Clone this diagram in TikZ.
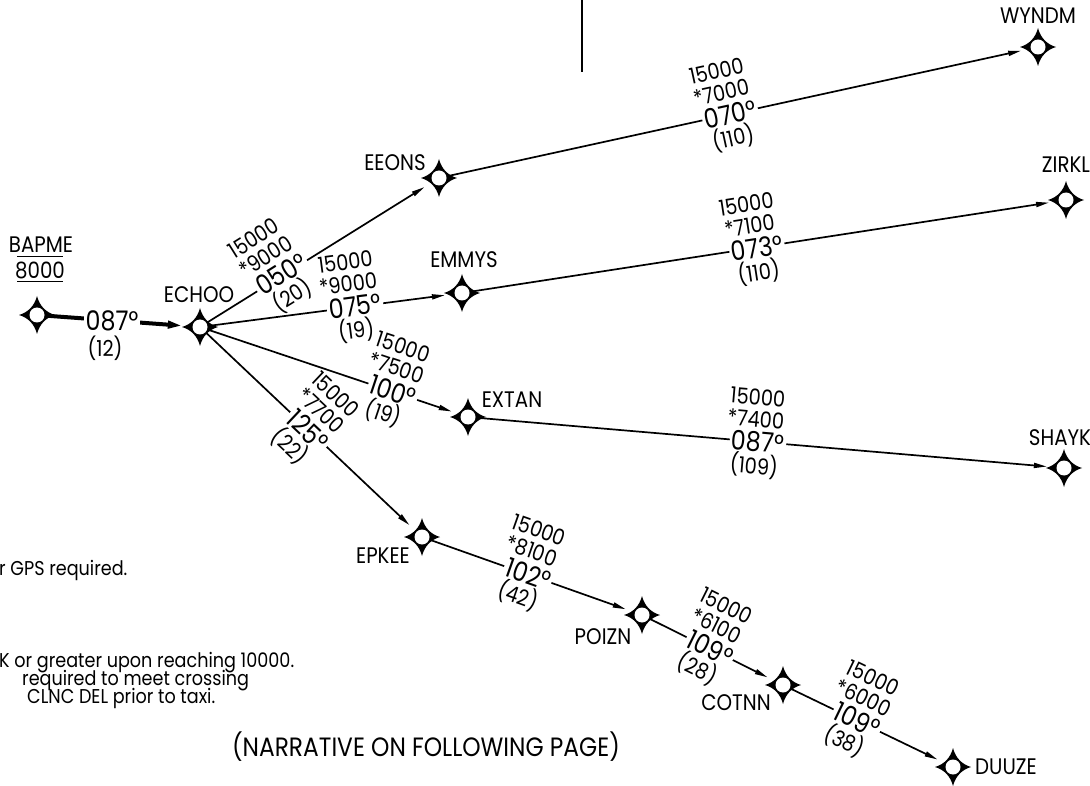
\documentclass[tikz,border=0pt]{standalone}
\usepackage{fontspec}
\setmainfont{Poppins}[FakeStretch=0.88]
\usetikzlibrary{arrows.meta}
\tikzset{
 wpt/.style={circle,minimum size=34pt,inner sep=0pt},
 conn/.style={line width=1.7pt,-{Triangle[length=13pt,width=5pt]}},
 wname/.style={font=\fontsize{22.5}{26}\selectfont,inner sep=0pt},
 alt/.style={font=\fontsize{22}{26}\selectfont,inner sep=0pt},
 hdg/.style={font=\fontsize{27}{30}\selectfont,fill=white,inner sep=2pt},
 note/.style={font=\fontsize{20}{24}\selectfont,anchor=base west,inner sep=0pt},
 wpstar/.pic={
  \fill[black] (18,0) .. controls (9,2.6) and (2.6,9) .. (0,19)
    .. controls (-2.6,9) and (-9,2.6) .. (-18,0)
    .. controls (-9,-2.6) and (-2.6,-9) .. (0,-19)
    .. controls (2.6,-9) and (9,-2.6) .. (18,0) -- cycle;
  \fill[white] (0,0) circle (7.5);
 }
}
\newcommand\seglab[7]{%
 \begin{scope}[shift={#2},rotate=#3,transform shape]
  \node[alt] (#1a) at (-4,-45) {#4};
  \node[alt] (#1b) at (-4,-23) {#5};
  \node[hdg] (#1c) at (0,0) {#6};
  \node[alt] (#1d) at (-2,24) {#7};
 \end{scope}}
\begin{document}
\begin{tikzpicture}[x=1pt,y=-1pt]
\useasboundingbox (0,0) rectangle (1090,786);
% waypoints
\foreach \n/\p in {BAPME/{(37,315)},ECHOO/{(200,327)},EEONS/{(439,178)},EMMYS/{(462,293)},
  EXTAN/{(468,417)},EPKEE/{(422,537)},WYNDM/{(1038,47)},ZIRKL/{(1066,200)},
  SHAYK/{(1064,468)},POIZN/{(642,615)},COTNN/{(783,685)},DUUZE/{(953,767)}}
  {\node[wpt] (\n) at \p {};}
% connectors
\draw[line width=4pt,-{Triangle[length=15pt,width=7pt]}] (BAPME.center) -- (ECHOO);
\draw[conn] (ECHOO.center) -- (EEONS);
\draw[conn] (ECHOO.center) -- (EMMYS);
\draw[conn] (ECHOO.center) -- (EXTAN);
\draw[conn] (ECHOO.center) -- (EPKEE);
\draw[conn] (EEONS.center) -- (WYNDM);
\draw[conn] (EMMYS.center) -- (ZIRKL);
\draw[conn] (EXTAN.center) -- (SHAYK);
\draw[conn] (EPKEE.center) -- (POIZN);
\draw[conn] (POIZN.center) -- (COTNN);
\draw[conn] (COTNN.center) -- (DUUZE);
% symbols
\foreach \n in {BAPME,ECHOO,EEONS,EMMYS,EXTAN,EPKEE,WYNDM,ZIRKL,SHAYK,POIZN,COTNN,DUUZE}
  \pic at (\n) {wpstar};
% names
\node[wname] (tBAPME) at (41,245) {BAPME};
\node[wname] (t8000) at (40,270) {8000};
\draw[line width=1pt] (17,257) -- (63,257);
\draw[line width=1pt] (17,282) -- (63,282);
\node[wname] (tECHOO) at (199,295) {ECHOO};
\node[wname] (tEEONS) at (395,163) {EEONS};
\node[wname] (tEMMYS) at (464,260) {EMMYS};
\node[wname] (tEXTAN) at (512,400) {EXTAN};
\node[wname] (tEPKEE) at (383,556) {EPKEE};
\node[wname] (tWYNDM) at (1038,16) {WYNDM};
\node[wname] (tZIRKL) at (1066,165) {ZIRKL};
\node[wname] (tSHAYK) at (1060,438) {SHAYK};
\node[wname] (tPOIZN) at (603,637) {POIZN};
\node[wname] (tCOTNN) at (736,703) {COTNN};
\node[wname] (tDUUZE) at (1006,767) {DUUZE};
% segment labels
\node[hdg] (h087) at (112,321) {087°};
\node[alt] (d12) at (105,348) {(12)};
\seglab{b}{(281,274)}{32}{15000}{*9000}{050°}{(20)}
\seglab{c}{(355,306)}{7.4}{15000}{*9000}{075°}{(19)}
\seglab{d}{(393,391)}{-18.5}{15000}{*7500}{100°}{(19)}
\seglab{e}{(308,430)}{-43.3}{15000}{*7700}{125°}{(22)}
\seglab{f}{(730,114)}{12.3}{15000}{*7000}{070°}{(110)}
\seglab{g}{(757,248)}{8.75}{15000}{*7100}{073°}{(110)}
\seglab{h}{(758,442)}{-4.9}{15000}{*7400}{087°}{(109)}
\seglab{i}{(528,574)}{-19.5}{15000}{*8100}{102°}{(42)}
\seglab{j}{(710,648)}{-26.4}{15000}{*6100}{109°}{(28)}
\seglab{k}{(857,720)}{-25.8}{15000}{*6000}{109°}{(38)}
% misc
\draw[line width=1.2pt] (582,0) -- (582,72);
\node[note] (n1) at (-1,575) {r GPS required.};
\node[note] (n2) at (-1,667) {K or greater upon reaching 10000.};
\node[note] (n3) at (22,685) {required to meet crossing};
\node[note] (n4) at (27,703) {CLNC DEL prior to taxi.};
\node[wname,font=\fontsize{26.5}{30}\selectfont] (narr) at (426,747) {(NARRATIVE ON FOLLOWING PAGE)};
\end{tikzpicture}
\end{document}
